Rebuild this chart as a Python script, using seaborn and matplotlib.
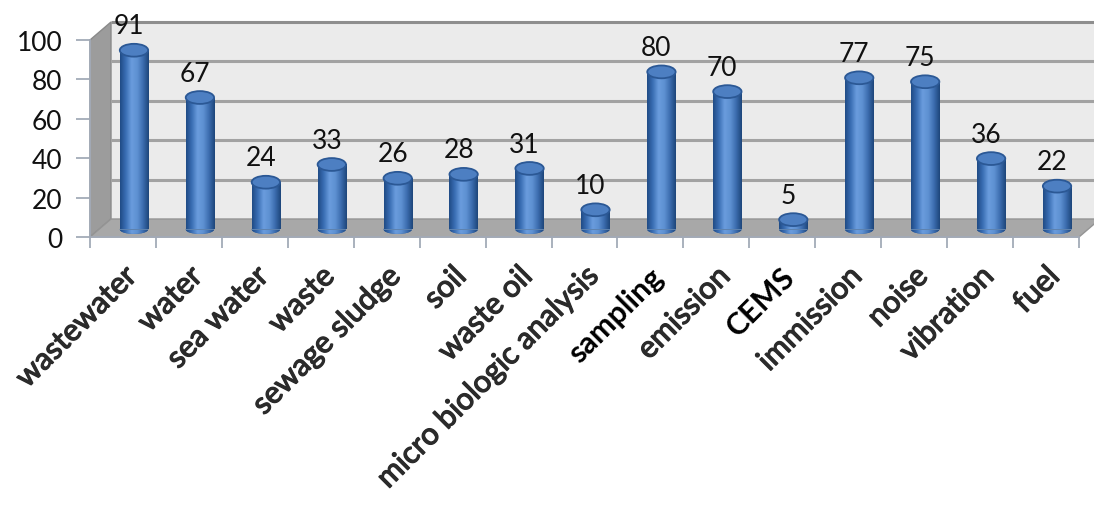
import numpy as np
import pandas as pd
import matplotlib
matplotlib.use("Agg")
import matplotlib.pyplot as plt
import matplotlib.transforms as mtransforms
import matplotlib.patheffects as pe
from matplotlib.patches import Polygon, Ellipse, Rectangle
from matplotlib.colors import LinearSegmentedColormap
import seaborn as sns

# ---------------- data ----------------
categories = ["wastewater", "water", "sea water", "waste", "sewage sludge", "soil",
              "waste oil", "micro biologic analysis", "sampling", "emission", "CEMS",
              "immission", "noise", "vibration", "fuel"]
values = [91, 67, 24, 33, 26, 28, 31, 10, 80, 70, 5, 77, 75, 36, 22]
y_ticks = [0, 20, 40, 60, 80, 100]
highlighted = ["sampling", "CEMS"]

# ---------------- style ----------------
sns.set_style("white")
plt.rcParams["font.family"] = ["Lato", "DejaVu Sans"]

AXIS_COL = "#A3ABB8"
TEXT_COL = "#111111"
BAR_W = 0.43
TOP_H = 6.5           # top cap ellipse height in value units
BOT_H = 4.5           # bottom ellipse height in value units

fig = plt.figure(figsize=(10.94, 5.06), dpi=100)
fig.patch.set_facecolor("white")
ax = fig.add_axes([90 / 1094, 1 - 238 / 506, (1079 - 90) / 1094, 197 / 506])
ax.patch.set_visible(False)

df = pd.DataFrame({"category": categories, "value": values})
sns.barplot(data=df, x="category", y="value", color="#4F81BD", width=BAR_W,
            linewidth=0, ax=ax, zorder=3)
ax.set_xlim(-0.5, len(categories) - 0.5)
ax.set_ylim(0, 100)
ax.set_xlabel("")
ax.set_ylabel("")

# depth offsets (pseudo-3D)
back = mtransforms.ScaledTranslation(0.21, 0.18, fig.dpi_scale_trans)
mid = mtransforms.ScaledTranslation(0.11, 0.075, fig.dpi_scale_trans)
back_t = ax.transData + back
mid_t = ax.transData + mid
xmin, xmax = ax.get_xlim()

# back wall
ax.add_patch(Rectangle((xmin, 0), xmax - xmin, 100, transform=back_t,
                       fc="#EBEBEB", ec="none", zorder=0.5, clip_on=False))
for t in y_ticks[1:]:
    ax.plot([xmin, xmax], [t, t], transform=back_t,
            color="#A2A2A2" if t < 100 else "#8E8E8E",
            lw=2.2, clip_on=False, zorder=0.6, solid_capstyle="butt")

# side wall and floor (parallelograms between front and back planes)
ident = mtransforms.IdentityTransform()
fig.canvas.draw()
side = np.vstack([ax.transData.transform([(xmin, 0), (xmin, 100)]),
                  back_t.transform([(xmin, 100), (xmin, 0)])])
ax.add_patch(Polygon(side, closed=True, transform=ident, fc="#9C9C9C", ec="#8A8A8A",
                     lw=1, zorder=0.55, clip_on=False))
floor = np.vstack([ax.transData.transform([(xmin, 0), (xmax, 0)]),
                   back_t.transform([(xmax, 0), (xmin, 0)])])
ax.add_patch(Polygon(floor, closed=True, transform=ident, fc="#A8A8A8", ec="#949494",
                     lw=1, zorder=0.7, clip_on=False))

# cylinders
cyl = LinearSegmentedColormap.from_list(
    "cyl", ["#1F4A85", "#3A6EB4", "#6A9CDD", "#5E91D2", "#3B6CAE", "#1D4579"])
grad = np.linspace(0, 1, 256).reshape(1, -1)
label_t = ax.transData + mtransforms.ScaledTranslation(0.06, 0.075 + 0.105, fig.dpi_scale_trans)
for p, v in zip(ax.patches[:len(values)], values):
    x0, w = p.get_x(), p.get_width()
    cx = x0 + w / 2
    p.set_transform(mid_t)
    p.set_clip_on(False)
    im = ax.imshow(grad, cmap=cyl, extent=[x0, x0 + w, 0, v], aspect="auto",
                   transform=mid_t, zorder=3.1, interpolation="bilinear")
    im.set_clip_path(p)
    bot = Ellipse((cx, 0), w, BOT_H, transform=mid_t, fc="#2F5E9E", ec="none", zorder=2.9)
    ax.add_patch(bot)
    im2 = ax.imshow(grad, cmap=cyl, extent=[x0, x0 + w, -BOT_H / 2, BOT_H / 2], aspect="auto",
                    transform=mid_t, zorder=2.95, interpolation="bilinear")
    im2.set_clip_path(bot)
    ax.add_patch(Ellipse((cx, v), w, TOP_H, transform=mid_t, fc="#4D7FC2",
                         ec="#2B5895", lw=1.3, zorder=3.3))
    ax.text(cx, v + TOP_H / 2, f"{v}", transform=label_t,
            ha="center", va="baseline", fontsize=19, color=TEXT_COL, zorder=4)

ax.set_xlim(xmin, xmax)
ax.set_ylim(0, 100)

# axes
for s in ["top", "right"]:
    ax.spines[s].set_visible(False)
for s in ["left", "bottom"]:
    ax.spines[s].set_color(AXIS_COL)
    ax.spines[s].set_linewidth(1.3)
    ax.spines[s].set_zorder(0.8)

ax.set_yticks(y_ticks)
ax.set_yticklabels([str(t) for t in y_ticks])
ax.tick_params(axis="y", length=10, width=1.3, color=AXIS_COL, pad=10,
               labelsize=19, labelcolor=TEXT_COL, direction="out", left=True)

ax.set_xticks(np.arange(len(categories)) + 0.13)
ax.set_xticklabels(categories)
ax.set_xticks(np.arange(xmin, xmax + 0.01, 1.0), minor=True)
ax.tick_params(axis="x", which="major", length=0, pad=25, labelsize=22)
ax.tick_params(axis="x", which="minor", length=8, width=1.3, color=AXIS_COL,
               direction="out", bottom=True)
for lab in ax.get_xticklabels():
    lab.set_rotation(45)
    lab.set_ha("right")
    lab.set_va("center")
    lab.set_rotation_mode("anchor")
    if lab.get_text() in highlighted:
        lab.set_fontweight("bold")
        lab.set_color("#000000")
    else:
        lab.set_fontweight("normal")
        lab.set_color("#2B2B2B")
        lab.set_path_effects([pe.withStroke(linewidth=0.9, foreground="#2B2B2B")])

fig.savefig("out.png", dpi=100, facecolor="white")
